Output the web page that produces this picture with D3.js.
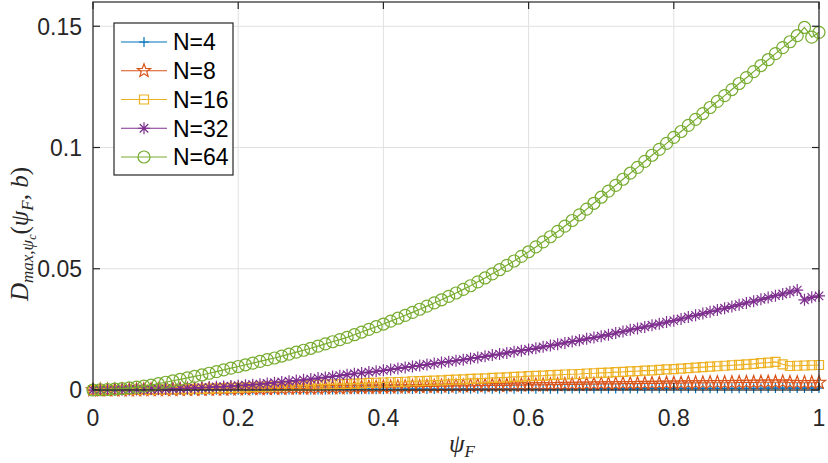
<!DOCTYPE html>
<html>
<head>
<meta charset="utf-8">
<script src="https://cdn.jsdelivr.net/npm/d3@7"></script>
<style>
  body { margin: 0; background: #fff; }
  svg { display: block; }
</style>
</head>
<body>
<div id="chart"></div>
<script>
const width = 828;
const height = 463;

// x values: psi_F from 0 to 1 in steps of 0.01
const psiF = d3.range(101).map(i => +(i / 100).toFixed(2));

const seriesNames = ["N=4", "N=8", "N=16", "N=32", "N=64"];

const n4 = [
  0, 0, 0, 0, 0, 0, 0, 0, 0, 0, 0,
  0, 0, 0, 0.0001, 0.0001, 0.0001, 0.0001, 0.0001, 0.0001, 0.0001,
  0.0001, 0.0001, 0.0001, 0.0001, 0.0002, 0.0002, 0.0002, 0.0002, 0.0002, 0.0002,
  0.0002, 0.0002, 0.0002, 0.0003, 0.0003, 0.0003, 0.0003, 0.0003, 0.0003, 0.0003,
  0.0003, 0.0003, 0.0004, 0.0004, 0.0004, 0.0004, 0.0004, 0.0004, 0.0004, 0.0004,
  0.0005, 0.0005, 0.0005, 0.0005, 0.0005, 0.0005, 0.0005, 0.0005, 0.0005, 0.0005,
  0.0005, 0.0005, 0.0005, 0.0005, 0.0006, 0.0006, 0.0006, 0.0006, 0.0006, 0.0006,
  0.0006, 0.0006, 0.0006, 0.0006, 0.0006, 0.0007, 0.0007, 0.0007, 0.0007, 0.0007,
  0.0007, 0.0007, 0.0007, 0.0007, 0.0007, 0.0007, 0.0007, 0.0007, 0.0007, 0.0007,
  0.0007, 0.0007, 0.0008, 0.0008, 0.0008, 0.0008, 0.0008, 0.0008, 0.0008, 0.0008
];

const n8 = [
  0, 0, 0, 0, 0, 0, 0, 0.0001, 0.0001, 0.0001, 0.0001,
  0.0001, 0.0002, 0.0002, 0.0002, 0.0002, 0.0003, 0.0003, 0.0003, 0.0004, 0.0004,
  0.0004, 0.0005, 0.0005, 0.0005, 0.0006, 0.0006, 0.0007, 0.0007, 0.0007, 0.0008,
  0.0008, 0.0009, 0.0009, 0.0009, 0.0010, 0.0010, 0.0011, 0.0011, 0.0011, 0.0012,
  0.0012, 0.0013, 0.0013, 0.0014, 0.0014, 0.0015, 0.0015, 0.0016, 0.0016, 0.0017,
  0.0017, 0.0017, 0.0018, 0.0018, 0.0019, 0.0019, 0.0019, 0.0020, 0.0020, 0.0021,
  0.0021, 0.0021, 0.0022, 0.0022, 0.0023, 0.0023, 0.0023, 0.0024, 0.0024, 0.0025,
  0.0025, 0.0025, 0.0026, 0.0026, 0.0026, 0.0027, 0.0027, 0.0027, 0.0028, 0.0028,
  0.0028, 0.0029, 0.0029, 0.0029, 0.0030, 0.0030, 0.0030, 0.0030, 0.0031, 0.0031,
  0.0031, 0.0032, 0.0032, 0.0032, 0.0033, 0.0031, 0.0030, 0.0030, 0.0030, 0.0031
];

const n16 = [
  0, 0, 0, 0, 0, 0.0001, 0.0001, 0.0001, 0.0001, 0.0002, 0.0002,
  0.0003, 0.0003, 0.0004, 0.0005, 0.0005, 0.0006, 0.0007, 0.0008, 0.0009, 0.0010,
  0.0011, 0.0012, 0.0013, 0.0014, 0.0015, 0.0016, 0.0017, 0.0018, 0.0019, 0.0020,
  0.0021, 0.0022, 0.0023, 0.0024, 0.0025, 0.0026, 0.0027, 0.0029, 0.0030, 0.0031,
  0.0032, 0.0033, 0.0034, 0.0036, 0.0037, 0.0038, 0.0039, 0.0040, 0.0042, 0.0043,
  0.0044, 0.0046, 0.0047, 0.0048, 0.0050, 0.0051, 0.0052, 0.0054, 0.0055, 0.0057,
  0.0058, 0.0059, 0.0061, 0.0062, 0.0064, 0.0065, 0.0066, 0.0068, 0.0069, 0.0071,
  0.0072, 0.0074, 0.0075, 0.0077, 0.0078, 0.0080, 0.0081, 0.0083, 0.0085, 0.0086,
  0.0088, 0.0090, 0.0092, 0.0094, 0.0096, 0.0098, 0.0100, 0.0102, 0.0104, 0.0106,
  0.0108, 0.0111, 0.0113, 0.0116, 0.0106, 0.0099, 0.0100, 0.0101, 0.0102, 0.0103
];

const n32 = [
  0, 0, 0, 0.0001, 0.0001, 0.0001, 0.0002, 0.0002, 0.0003, 0.0003, 0.0004,
  0.0005, 0.0006, 0.0007, 0.0008, 0.0010, 0.0011, 0.0013, 0.0014, 0.0016, 0.0018,
  0.0020, 0.0022, 0.0024, 0.0027, 0.0030, 0.0033, 0.0036, 0.0039, 0.0042, 0.0045,
  0.0049, 0.0052, 0.0056, 0.0059, 0.0063, 0.0067, 0.0070, 0.0074, 0.0077, 0.0081,
  0.0085, 0.0089, 0.0093, 0.0097, 0.0101, 0.0105, 0.0109, 0.0113, 0.0117, 0.0121,
  0.0125, 0.0130, 0.0134, 0.0139, 0.0144, 0.0148, 0.0153, 0.0158, 0.0162, 0.0167,
  0.0172, 0.0178, 0.0183, 0.0189, 0.0194, 0.0200, 0.0205, 0.0211, 0.0216, 0.0222,
  0.0228, 0.0235, 0.0241, 0.0248, 0.0254, 0.0260, 0.0267, 0.0273, 0.0280, 0.0286,
  0.0293, 0.0301, 0.0308, 0.0315, 0.0323, 0.0330, 0.0337, 0.0344, 0.0352, 0.0359,
  0.0366, 0.0374, 0.0381, 0.0389, 0.0396, 0.0404, 0.0412, 0.0372, 0.0382, 0.0388
];

const n64 = [
  0, 0.0001, 0.0002, 0.0004, 0.0006, 0.0009, 0.0012, 0.0016, 0.0020, 0.0026, 0.0032,
  0.0038, 0.0044, 0.0050, 0.0056, 0.0062, 0.0069, 0.0076, 0.0083, 0.0090, 0.0097,
  0.0104, 0.0111, 0.0118, 0.0125, 0.0132, 0.0140, 0.0148, 0.0156, 0.0164, 0.0172,
  0.0181, 0.0190, 0.0199, 0.0208, 0.0217, 0.0228, 0.0239, 0.0250, 0.0261, 0.0272,
  0.0284, 0.0296, 0.0308, 0.0320, 0.0333, 0.0346, 0.0359, 0.0372, 0.0386, 0.0400,
  0.0415, 0.0430, 0.0446, 0.0462, 0.0479, 0.0496, 0.0514, 0.0532, 0.0551, 0.0570,
  0.0590, 0.0611, 0.0632, 0.0654, 0.0676, 0.0699, 0.0722, 0.0746, 0.0770, 0.0795,
  0.0820, 0.0844, 0.0869, 0.0894, 0.0918, 0.0943, 0.0968, 0.0992, 0.1017, 0.1042,
  0.1066, 0.1091, 0.1116, 0.1140, 0.1165, 0.1190, 0.1214, 0.1239, 0.1264, 0.1288,
  0.1313, 0.1338, 0.1362, 0.1387, 0.1412, 0.1436, 0.1461, 0.1495, 0.1455, 0.1475
];

const xTicks = [0, 0.2, 0.4, 0.6, 0.8, 1];
const xTickLabels = ["0", "0.2", "0.4", "0.6", "0.8", "1"];
const yTicks = [0, 0.05, 0.1, 0.15];
const yTickLabels = ["0", "0.05", "0.1", "0.15"];

const colors = ["#0072BD", "#D95319", "#EDB120", "#7E2F8E", "#77AC30"];
const markers = ["plus", "pentagram", "square", "asterisk", "circle"];
const seriesValues = [n4, n8, n16, n32, n64];

// plot area
const margin = { left: 93, right: width - 819, top: 2, bottom: height - 390 };
const x = d3.scaleLinear().domain([0, 1]).range([margin.left, width - margin.right]);
const y = d3.scaleLinear().domain([0, 0.16]).range([height - margin.bottom, margin.top]);

const axisColor = "#262626";
const fontFamily = "'Liberation Sans', Arial, Helvetica, sans-serif";
const mathFont = "'Liberation Serif', 'Times New Roman', serif";
const labelSize = 23;
const markStroke = 1.2;

const svg = d3.select("#chart").append("svg")
  .attr("width", width)
  .attr("height", height);

// grid lines
const grid = svg.append("g");
grid.selectAll(".gx").data(xTicks).enter().append("line")
  .attr("x1", d => x(d)).attr("x2", d => x(d))
  .attr("y1", y(0.16)).attr("y2", y(0))
  .attr("stroke", "#e1e1e1").attr("stroke-width", 1);
grid.selectAll(".gy").data(yTicks).enter().append("line")
  .attr("x1", x(0)).attr("x2", x(1))
  .attr("y1", d => y(d)).attr("y2", d => y(d))
  .attr("stroke", "#e1e1e1").attr("stroke-width", 1);

// marker shapes
const markerPath = (type) => {
  switch (type) {
    case "plus": return "M-5,0H5M0,-5V5";
    case "square": return "M-4.5,-4.5H4.5V4.5H-4.5Z";
    case "asterisk": {
      const r = 6, k = r * Math.SQRT1_2;
      return `M${-r},0H${r}M0,${-r}V${r}M${-k},${-k}L${k},${k}M${-k},${k}L${k},${-k}`;
    }
    case "circle": return d3.symbol(d3.symbolCircle, Math.PI * 36)();
    case "pentagram": {
      const pts = [];
      for (let i = 0; i < 10; i++) {
        const r = i % 2 === 0 ? 7 : 2.9;
        const a = -Math.PI / 2 + i * Math.PI / 5;
        pts.push([r * Math.cos(a), r * Math.sin(a)]);
      }
      return "M" + pts.map(p => p[0].toFixed(2) + "," + p[1].toFixed(2)).join("L") + "Z";
    }
  }
};

// series
const line = d3.line().x(d => x(d[0])).y(d => y(d[1]));
seriesValues.forEach((vals, si) => {
  const pts = psiF.map((p, i) => [p, vals[i]]);
  const g = svg.append("g");
  g.append("path")
    .attr("d", line(pts))
    .attr("fill", "none")
    .attr("stroke", colors[si])
    .attr("stroke-width", markStroke);
  g.selectAll("path.m").data(pts).enter().append("path")
    .attr("class", "m")
    .attr("transform", d => `translate(${x(d[0])},${y(d[1])})`)
    .attr("d", markerPath(markers[si]))
    .attr("fill", "none")
    .attr("stroke", colors[si])
    .attr("stroke-width", markStroke);
});

// axes box with inward ticks
const box = svg.append("g").attr("stroke", axisColor).attr("stroke-width", 1.2).attr("fill", "none");
box.append("rect")
  .attr("x", x(0)).attr("y", y(0.16))
  .attr("width", x(1) - x(0)).attr("height", y(0) - y(0.16));
const tickLen = 7;
xTicks.forEach(t => {
  box.append("line").attr("x1", x(t)).attr("x2", x(t)).attr("y1", y(0)).attr("y2", y(0) - tickLen);
  box.append("line").attr("x1", x(t)).attr("x2", x(t)).attr("y1", y(0.16)).attr("y2", y(0.16) + tickLen);
});
yTicks.forEach(t => {
  box.append("line").attr("x1", x(0)).attr("x2", x(0) + tickLen).attr("y1", y(t)).attr("y2", y(t));
  box.append("line").attr("x1", x(1)).attr("x2", x(1) - tickLen).attr("y1", y(t)).attr("y2", y(t));
});

// tick labels
svg.selectAll(".xt").data(xTicks).enter().append("text")
  .attr("x", d => x(d))
  .attr("y", y(0) + 36)
  .attr("text-anchor", "middle")
  .attr("font-family", fontFamily)
  .attr("font-size", labelSize)
  .attr("fill", axisColor)
  .text((d, i) => xTickLabels[i]);

svg.selectAll(".yt").data(yTicks).enter().append("text")
  .attr("x", x(0) - 11)
  .attr("y", d => y(d))
  .attr("dy", "0.36em")
  .attr("text-anchor", "end")
  .attr("font-family", fontFamily)
  .attr("font-size", labelSize)
  .attr("fill", axisColor)
  .text((d, i) => yTickLabels[i]);

// x label: psi_F
const xl = svg.append("text")
  .attr("x", 449).attr("y", 452)
  .attr("font-family", mathFont)
  .attr("font-size", 25)
  .attr("fill", axisColor);
xl.append("tspan").attr("font-style", "italic").text("ψ");
xl.append("tspan").attr("font-style", "italic").attr("font-size", 17).attr("dy", 5).text("F");

// y label: D_{max,psi_c}(psi_F, b)
const yl = svg.append("text")
  .attr("transform", "translate(28,234) rotate(-90)")
  .attr("text-anchor", "middle")
  .attr("font-family", mathFont)
  .attr("font-size", 25)
  .attr("fill", axisColor);
yl.append("tspan").attr("font-style", "italic").text("D");
yl.append("tspan").attr("font-style", "italic").attr("font-size", 17).attr("dy", 5).text("max,ψ");
yl.append("tspan").attr("font-style", "italic").attr("font-size", 12).attr("dy", 3).text("c");
yl.append("tspan").attr("dy", -8).text("(");
yl.append("tspan").attr("font-style", "italic").text("ψ");
yl.append("tspan").attr("font-style", "italic").attr("font-size", 17).attr("dy", 5).text("F");
yl.append("tspan").attr("dy", -5).text(", ");
yl.append("tspan").attr("font-style", "italic").text("b");
yl.append("tspan").text(")");

// legend
const legend = svg.append("g");
legend.append("rect")
  .attr("x", 114).attr("y", 23).attr("width", 119).attr("height", 152)
  .attr("fill", "#fff").attr("stroke", axisColor).attr("stroke-width", 1.2);
const rowY = d3.scalePoint().domain(seriesNames).range([42, 157]);
seriesNames.forEach((name, si) => {
  const ry = rowY(name);
  legend.append("line")
    .attr("x1", 121).attr("x2", 167).attr("y1", ry).attr("y2", ry)
    .attr("stroke", colors[si]).attr("stroke-width", markStroke);
  legend.append("path")
    .attr("transform", `translate(144,${ry})`)
    .attr("d", markerPath(markers[si]))
    .attr("fill", "none").attr("stroke", colors[si]).attr("stroke-width", markStroke);
  legend.append("text")
    .attr("x", 173).attr("y", ry).attr("dy", "0.36em")
    .attr("font-family", fontFamily).attr("font-size", labelSize)
    .attr("fill", "#000")
    .text(name);
});
</script>
</body>
</html>
